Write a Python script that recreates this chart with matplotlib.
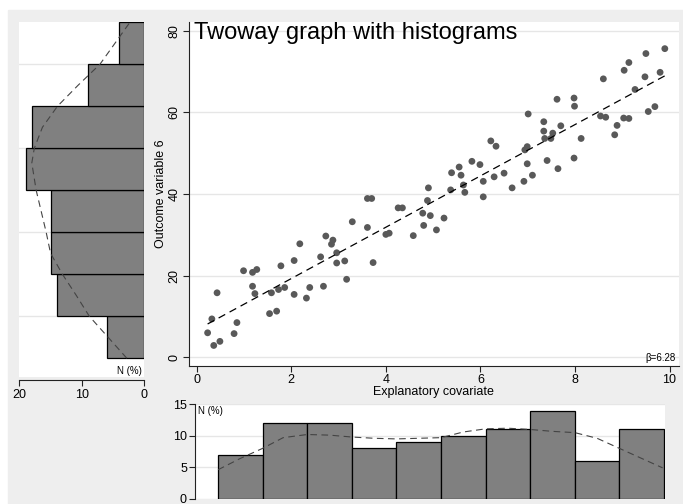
import numpy as np
import matplotlib.pyplot as plt
from matplotlib.patches import Rectangle

plt.rcParams['font.family'] = ['Liberation Sans', 'DejaVu Sans']

# scatter data (explanatory covariate, outcome variable 6)
x_cov = [0.23, 0.32, 0.43, 0.36, 0.49, 0.79, 0.85, 0.99, 1.18, 1.27,
         1.18, 1.23, 1.54, 1.69, 1.58, 1.73, 1.78, 1.86, 2.06, 2.18,
         2.06, 2.32, 2.39, 2.62, 2.68, 2.73, 2.88, 2.85, 2.96, 2.96,
         3.13, 3.17, 3.29, 3.61, 3.70, 3.61, 3.73, 4.00, 4.07, 4.26,
         4.35, 4.58, 4.78, 4.80, 4.88, 4.90, 4.94, 5.07, 5.23, 5.39,
         5.37, 5.59, 5.55, 5.64, 5.67, 5.82, 5.99, 6.06, 6.06, 6.29,
         6.22, 6.33, 6.50, 6.67, 6.92, 6.99, 7.10, 6.94, 6.99, 7.01,
         7.34, 7.34, 7.36, 7.49, 7.53, 7.41, 7.64, 7.70, 7.62, 7.98,
         7.99, 7.98, 8.13, 8.60, 8.54, 8.65, 8.89, 8.84, 9.03, 9.14,
         9.04, 9.14, 9.27, 9.50, 9.48, 9.55, 9.69, 9.80, 9.90]
y_out = [6.0, 9.4, 15.8, 2.9, 3.9, 5.8, 8.5, 21.2, 20.8, 21.5,
         17.4, 15.6, 10.7, 11.3, 15.8, 16.6, 22.4, 17.1, 23.7, 27.8,
         15.4, 14.5, 17.1, 24.6, 17.4, 29.7, 28.7, 27.7, 25.6, 23.1,
         23.6, 19.1, 33.2, 38.9, 38.9, 31.8, 23.2, 30.1, 30.4, 36.6,
         36.6, 29.8, 35.3, 32.3, 38.4, 41.5, 34.7, 31.2, 34.1, 45.2,
         41.0, 44.6, 46.6, 42.2, 40.4, 48.0, 47.2, 43.1, 39.3, 44.2,
         53.0, 51.7, 45.1, 41.5, 43.1, 47.4, 44.6, 50.8, 51.6, 59.6,
         57.7, 55.4, 53.6, 53.6, 54.9, 48.2, 46.2, 56.7, 63.2, 63.5,
         61.5, 48.8, 53.6, 68.2, 59.1, 58.8, 56.8, 54.5, 58.6, 58.5,
         70.3, 72.2, 65.6, 74.4, 68.7, 60.2, 61.4, 69.8, 75.6]

# histogram of outcome (bins bottom -> top), percent
hist_y_pct = [6, 14, 15, 15, 19, 18, 9, 4]
# histogram of covariate (bins left -> right), percent
hist_x_pct = [7, 12, 12, 8, 9, 10, 11, 14, 6, 11]

# density curves: position in bins, percent
dens_y_pos = [0, 0.5, 1, 1.5, 2, 2.5, 3, 4, 4.65, 5, 5.5, 6, 6.5, 7, 7.5, 8]
dens_y_pct = [2.8, 5.8, 8.8, 10.9, 13.1, 15.0, 15.7, 17.3, 18.0, 17.6,
              16.3, 13.9, 10.6, 7.1, 4.7, 2.3]
dens_x_pos = [0, 0.5, 1, 1.46, 2, 2.5, 3, 3.5, 4, 5, 5.5, 6, 6.5, 7,
              7.5, 8, 8.5, 9, 9.5, 9.97]
dens_x_pct = [4.6, 6.4, 8.0, 9.7, 10.2, 10.1, 9.8, 9.6, 9.5, 9.7, 10.6,
              11.1, 11.2, 11.0, 10.7, 10.5, 9.6, 8.0, 6.4, 4.9]

W, H = 683, 504
BG = '#eeeeee'
GRID = '#e6e6e6'
BAR = '#808080'
DOT = '#595959'
FS = 9

fig = plt.figure(figsize=(W / 100, H / 100), dpi=100, facecolor='white')
fig.patches.append(Rectangle((8 / W, 0), 1 - 8 / W, 1 - 10 / H,
                             transform=fig.transFigure, color=BG, zorder=-10))


def px_axes(x0, y0, x1, y1):
    return fig.add_axes([x0 / W, 1 - y1 / H, (x1 - x0) / W, (y1 - y0) / H])


def style(ax):
    for s in ax.spines.values():
        s.set_visible(False)
    ax.tick_params(length=4, width=0.8, labelsize=FS, pad=2, color='#222222')
    ax.set_axisbelow(True)


# main scatter
ax = px_axes(188.7, 21.7, 679, 365.7)
style(ax)
ax.spines['left'].set_visible(True)
ax.spines['bottom'].set_visible(True)
for s in ('left', 'bottom'):
    ax.spines[s].set_linewidth(0.8)
    ax.spines[s].set_color('#222222')
ax.scatter(x_cov, y_out, s=24, color=DOT, edgecolors='none', zorder=3)
b, a = np.polyfit(x_cov, y_out, 1)
xs = np.array([min(x_cov), max(x_cov)])
ax.plot(xs, a + b * xs, color='black', lw=0.9, dashes=(6, 4), zorder=4)
ax.set_xlim(-0.17, 10.2)
ax.set_ylim(-2.06, 82.2)
ax.set_xticks([0, 2, 4, 6, 8, 10])
ax.set_yticks([0, 20, 40, 60, 80])
ax.set_yticklabels(['0', '20', '40', '60', '80'], rotation=90, va='center')
ax.yaxis.grid(True, color=GRID, lw=1.0)
ax.set_xlabel('Explanatory covariate', fontsize=FS, labelpad=0)
ax.set_ylabel('Outcome variable 6', fontsize=FS, labelpad=1)
ax.text(0.011, 1.0, 'Twoway graph with histograms', transform=ax.transAxes,
        fontsize=17, ha='left', va='top')
ax.text(0.994, 0.022, 'β=6.28', transform=ax.transAxes, fontsize=7,
        ha='right', va='center')

# left histogram of outcome
axl = px_axes(19.3, 22.3, 144.3, 376.7)
style(axl)
axl.spines['bottom'].set_visible(True)
axl.spines['bottom'].set_position(('outward', 2.5))
axl.spines['bottom'].set_linewidth(0.8)
axl.spines['bottom'].set_color('#222222')
axl.barh(np.arange(len(hist_y_pct)), hist_y_pct, height=1, align='edge',
         color=BAR, edgecolor='black', linewidth=0.9, zorder=2)
axl.plot(dens_y_pct, dens_y_pos, color='#444444', lw=0.8, dashes=(6, 4), zorder=3)
axl.set_xlim(20, 0)
axl.set_ylim(-0.44, 8)
axl.set_xticks([20, 10, 0])
axl.set_yticks([1, 3, 5, 7])
axl.tick_params(axis='y', length=0, labelleft=False)
axl.yaxis.grid(True, color=GRID, lw=1.0)
axl.text(0.982, 0.017, 'N (%)', transform=axl.transAxes, fontsize=7,
         ha='right', va='center')

# bottom histogram of covariate
axb = px_axes(195.3, 404.3, 665.3, 498.7)
style(axb)
axb.spines['left'].set_visible(True)
axb.spines['left'].set_linewidth(0.8)
axb.spines['left'].set_color('#222222')
axb.bar(np.arange(len(hist_x_pct)), hist_x_pct, width=1, align='edge',
        color=BAR, edgecolor='black', linewidth=0.9, zorder=2)
axb.plot(dens_x_pos, dens_x_pct, color='#444444', lw=0.8, dashes=(6, 4), zorder=3)
axb.set_xlim(-0.51, 10.03)
axb.set_ylim(0, 15)
axb.set_xticks([])
axb.set_yticks([0, 5, 10, 15])
axb.yaxis.grid(True, color=GRID, lw=1.0)
axb.text(0.006, 0.93, 'N (%)', transform=axb.transAxes, fontsize=7,
         ha='left', va='center')

fig.savefig('out.png', dpi=100, facecolor=fig.get_facecolor())
